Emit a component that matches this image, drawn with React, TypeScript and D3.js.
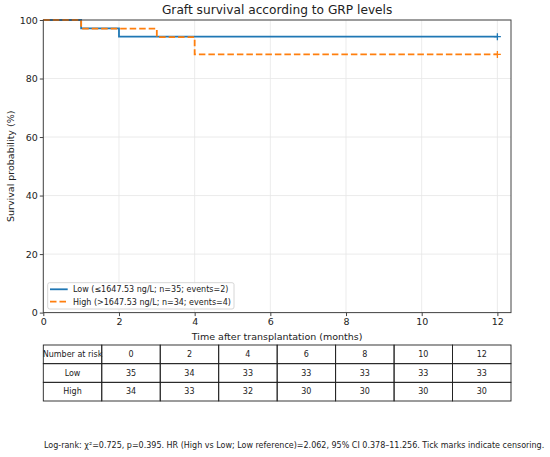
import * as d3 from 'd3';
import React, { useRef, useEffect } from 'react';

// step data: times and survival (%) after each step
const lowTimes = [0, 1, 2, 12];
const lowSurv = [100, 97.14, 94.29, 94.29];
const highTimes = [0, 1, 3, 4, 12];
const highSurv = [100, 97.06, 94.12, 88.24, 88.24];

const xTicks = [0, 2, 4, 6, 8, 10, 12];
const yTicks = [0, 20, 40, 60, 80, 100];

const legendLabels = [
    'Low (≤1647.53 ng/L; n=35; events=2)',
    'High (>1647.53 ng/L; n=34; events=4)',
];

const riskHeader = ['Number at risk', '0', '2', '4', '6', '8', '10', '12'];
const riskLow = ['Low', '35', '34', '33', '33', '33', '33', '33'];
const riskHigh = ['High', '34', '33', '32', '30', '30', '30', '30'];

const footnote =
    'Log-rank: χ²=0.725, p=0.395. HR (High vs Low; Low reference)=2.062, 95% CI 0.378–11.256. Tick marks indicate censoring.';

const BLUE = '#1f77b4';
const ORANGE = '#ff7f0e';
const FONT = 'DejaVu Sans, sans-serif';

const App: React.FC = () => {
    const svgRef = useRef<SVGSVGElement | null>(null);

    useEffect(() => {
        document.body.style.margin = '0';
        const width = 550;
        const height = 457;

        const l = 43.3;
        const r = 511;
        const t = 20;
        const b = 312.6;

        const svg = d3.select(svgRef.current).attr('width', width).attr('height', height);
        svg.selectAll('*').remove();
        svg.append('rect').attr('width', width).attr('height', height).attr('fill', '#fff');

        const x = d3.scaleLinear().domain([0, 12.36]).range([l, r]);
        const y = d3.scaleLinear().domain([0, 100]).range([b, t]);

        // grid
        const grid = svg.append('g');
        xTicks.forEach(v => {
            grid.append('line')
                .attr('x1', x(v)).attr('x2', x(v)).attr('y1', t).attr('y2', b)
                .attr('stroke', '#e6e6e6').attr('stroke-width', 0.8);
        });
        yTicks.forEach(v => {
            grid.append('line')
                .attr('x1', l).attr('x2', r).attr('y1', y(v)).attr('y2', y(v))
                .attr('stroke', '#e6e6e6').attr('stroke-width', 0.8);
        });

        // curves
        const line = d3.line<[number, number]>()
            .x(d => x(d[0]))
            .y(d => y(d[1]))
            .curve(d3.curveStepAfter);

        const lowPts = lowTimes.map((tm, i) => [tm, lowSurv[i]] as [number, number]);
        const highPts = highTimes.map((tm, i) => [tm, highSurv[i]] as [number, number]);

        svg.append('path').datum(lowPts).attr('d', line)
            .attr('fill', 'none').attr('stroke', BLUE).attr('stroke-width', 1.8);
        svg.append('path').datum(highPts).attr('d', line)
            .attr('fill', 'none').attr('stroke', ORANGE).attr('stroke-width', 1.8)
            .attr('stroke-dasharray', '6.5,3');

        // censor marks at end
        const cens = [
            { t: 12, s: lowSurv[lowSurv.length - 1], c: BLUE },
            { t: 12, s: highSurv[highSurv.length - 1], c: ORANGE },
        ];
        cens.forEach(d => {
            const cx = x(d.t);
            const cy = y(d.s);
            svg.append('path')
                .attr('d', `M${cx - 3.5},${cy}H${cx + 3.5}M${cx},${cy - 3.5}V${cy + 3.5}`)
                .attr('stroke', d.c).attr('stroke-width', 1.3);
        });

        // axes box
        svg.append('rect')
            .attr('x', l).attr('y', t).attr('width', r - l).attr('height', b - t)
            .attr('fill', 'none').attr('stroke', '#444').attr('stroke-width', 1);

        const xAxis = svg.append('g')
            .attr('transform', `translate(0,${b})`)
            .call(d3.axisBottom(x).tickValues(xTicks).tickSize(3.5).tickPadding(2));
        const yAxis = svg.append('g')
            .attr('transform', `translate(${l},0)`)
            .call(d3.axisLeft(y).tickValues(yTicks).tickSize(3.5).tickPadding(2));
        [xAxis, yAxis].forEach(a => {
            a.select('.domain').remove();
            a.selectAll('line').attr('stroke', '#444');
            a.selectAll('text').attr('font-family', FONT).attr('font-size', 9.5).attr('fill', '#222');
        });

        // title & labels
        svg.append('text')
            .attr('x', (l + r) / 2).attr('y', 14)
            .attr('text-anchor', 'middle')
            .attr('font-family', FONT).attr('font-size', 12.2).attr('fill', '#222')
            .text('Graft survival according to GRP levels');
        svg.append('text')
            .attr('x', (l + r) / 2).attr('y', 340)
            .attr('text-anchor', 'middle')
            .attr('font-family', FONT).attr('font-size', 9.5).attr('fill', '#222')
            .text('Time after transplantation (months)');
        svg.append('text')
            .attr('transform', `translate(13.5,${(t + b) / 2}) rotate(-90)`)
            .attr('text-anchor', 'middle')
            .attr('font-family', FONT).attr('font-size', 9.5).attr('fill', '#222')
            .text('Survival probability (%)');

        // legend
        const lg = svg.append('g');
        lg.append('rect')
            .attr('x', 47.7).attr('y', 282.7).attr('width', 186.3).attr('height', 26.3).attr('rx', 2)
            .attr('fill', '#fff').attr('fill-opacity', 0.8).attr('stroke', '#ccc').attr('stroke-width', 0.8);
        legendLabels.forEach((lab, i) => {
            const ly = 289.3 + i * 12.4;
            lg.append('line')
                .attr('x1', 50).attr('x2', 67.7).attr('y1', ly).attr('y2', ly)
                .attr('stroke', i === 0 ? BLUE : ORANGE).attr('stroke-width', 1.8)
                .attr('stroke-dasharray', i === 0 ? null : '6.5,3');
            lg.append('text')
                .attr('x', 73).attr('y', ly + 3)
                .attr('font-family', FONT).attr('font-size', 8).attr('fill', '#222')
                .text(lab);
        });

        // number at risk table
        const rows = [riskHeader, riskLow, riskHigh];
        const col = d3.scaleBand<number>().domain(d3.range(riskHeader.length)).range([l, r]);
        const row = d3.scaleBand<number>().domain(d3.range(rows.length)).range([345, 401]);
        const tbl = svg.append('g');
        rows.forEach((cells, ri) => {
            cells.forEach((txt, ci) => {
                tbl.append('rect')
                    .attr('x', col(ci)!).attr('y', row(ri)!)
                    .attr('width', col.bandwidth()).attr('height', row.bandwidth())
                    .attr('fill', 'none').attr('stroke', '#222').attr('stroke-width', 0.9);
                tbl.append('text')
                    .attr('x', col(ci)! + col.bandwidth() / 2)
                    .attr('y', row(ri)! + row.bandwidth() / 2 + 2.8)
                    .attr('text-anchor', 'middle')
                    .attr('font-family', FONT).attr('font-size', 8).attr('fill', '#222')
                    .text(txt);
            });
        });

        // footnote
        svg.append('text')
            .attr('x', 44).attr('y', 448)
            .attr('font-family', FONT).attr('font-size', 8).attr('fill', '#222')
            .text(footnote);
    }, []);

    return <svg ref={svgRef}></svg>;
};

export default App;
